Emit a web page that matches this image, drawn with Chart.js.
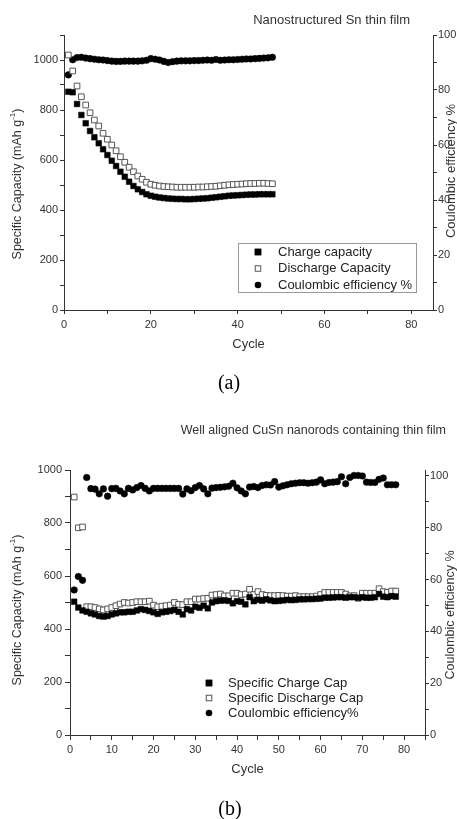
<!DOCTYPE html>
<html>
<head>
<meta charset="utf-8">
<script src="https://cdn.jsdelivr.net/npm/chart.js@4.4.1/dist/chart.umd.min.js"></script>
<style>
html,body{margin:0;padding:0;background:#fff;width:457px;height:819px;overflow:hidden;}
canvas{position:absolute;left:0;display:block;}
#ca{top:0;}
#cb{top:400px;}
</style>
</head>
<body>
<canvas id="ca" width="457" height="400" style="width:457px;height:400px"></canvas>
<canvas id="cb" width="457" height="419" style="width:457px;height:419px"></canvas>
<script>
// ---------- DATA: chart (a) ----------
const cyclesA = [1,2,3,4,5,6,7,8,9,10,11,12,13,14,15,16,17,18,19,20,21,22,23,24,25,26,27,28,29,30,31,32,33,34,35,36,37,38,39,40,41,42,43,44,45,46,47,48];
const chargeA = [873,871,824,780,747,716,691,667,643,620,597,576,553,533,513,496,483,472,463,457,453,450,448,446,445,444,444,443,443,444,445,446,447,449,451,453,455,457,458,459,460,461,462,462,463,463,463,463];
const dischargeA = [1020,956,896,853,820,789,760,736,707,683,660,637,613,591,571,553,536,523,511,503,499,496,494,493,492,491,491,491,491,491,492,492,493,494,495,497,499,501,502,503,504,505,506,506,507,507,506,505];
const ceA = [85.5,91.0,91.8,91.9,91.6,91.4,91.2,91.0,90.9,90.7,90.5,90.4,90.4,90.5,90.5,90.5,90.5,90.6,90.8,91.4,91.2,90.9,90.4,90.0,90.3,90.5,90.6,90.6,90.6,90.7,90.7,90.8,90.9,90.8,91.1,90.8,90.9,91.0,91.0,91.1,91.2,91.3,91.3,91.4,91.5,91.6,91.7,91.9];
const legendA = ['Charge capacity','Discharge Capacity','Coulombic efficiency %'];
const titleA = 'Nanostructured Sn thin film';
const xLabelsA = [0,20,40,60,80];
const yLabelsA = [0,200,400,600,800,1000];
const y2LabelsA = [0,20,40,60,80,100];

// ---------- DATA: chart (b) ----------
const cyclesB = [1,2,3,4,5,6,7,8,9,10,11,12,13,14,15,16,17,18,19,20,21,22,23,24,25,26,27,28,29,30,31,32,33,34,35,36,37,38,39,40,41,42,43,44,45,46,47,48,49,50,51,52,53,54,55,56,57,58,59,60,61,62,63,64,65,66,67,68,69,70,71,72,73,74,75,76,77,78];
const chargeB = [503,481,470,465,459,455,449,447,449,455,
                 459,463,463,465,465,470,475,472,468,463,
                 457,463,465,468,472,465,455,475,470,484,
                 480,488,478,500,505,507,508,506,497,505,
                 503,493,520,505,510,507,512,508,505,506,
                 508,510,509,510,512,512,513,513,514,515,
                 518,518,519,520,520,518,520,520,518,520,
                 518,518,520,532,522,520,524,522];
const dischargeB = [898,782,785,484,484,481,476,472,476,481,
                    488,494,500,498,500,503,503,503,505,490,
                    484,486,488,490,500,493,492,503,503,513,
                    513,515,516,528,530,532,525,525,535,535,
                    530,532,550,530,541,530,527,526,526,527,
                    526,524,524,526,522,522,522,522,524,530,
                    538,538,538,538,538,532,525,526,516,535,
                    535,535,535,552,541,538,543,543];
const ceB = [56.0,61.2,59.7,99.4,95.1,94.9,93.1,95.0,92.2,95.1,
             95.2,94.2,93.1,95.2,94.6,95.5,96.3,95.2,94.2,95.2,
             95.2,95.2,95.2,95.2,95.2,95.2,93.0,95.0,94.3,95.5,
             96.3,95.0,93.1,95.3,95.5,95.6,95.8,96.0,97.2,95.4,
             94.2,93.1,95.7,95.9,95.5,96.3,96.6,96.5,97.8,95.7,
             96.2,96.6,97.0,97.2,97.4,97.4,97.2,97.4,97.6,98.5,
             97.0,97.5,97.6,97.8,99.7,97.0,99.4,100.2,100.2,100.0,
             97.6,97.5,97.5,98.7,99.2,96.6,96.6,96.6];
const legendB = ['Specific Charge Cap','Specific Discharge Cap','Coulombic efficiency%'];
const titleB = 'Well aligned CuSn nanorods containing thin film';
const xLabelsB = [0,10,20,30,40,50,60,70,80];
const yLabelsB = [0,200,400,600,800,1000];
const y2LabelsB = [0,20,40,60,80,100];

// ---------- shared text ----------
const xTitle = 'Cycle';
const yTitleParts = ['Specific Capacity (mAh g', '-1', ')'];
const y2Title = 'Coulombic efficiency %';

const FONT = '"Liberation Sans", Arial, Helvetica, sans-serif';
const SERIF = '"Liberation Serif", "Times New Roman", serif';

function pts(xs, ys){ return xs.map((x,i)=>({x:x, y:ys[i]})); }

// text plugin: titles, axis titles, captions
const textPlugin = {
  id: 'texts',
  afterDraw(chart, args, opts){
    const ctx = chart.ctx;
    (opts.items || []).forEach(it => {
      ctx.save();
      ctx.translate(it.x, it.y);
      if (it.rot) ctx.rotate(it.rot);
      ctx.fillStyle = it.color || '#333';
      ctx.textBaseline = 'middle';
      if (it.parts) {
        const f = it.size + 'px ' + FONT, fs = Math.round(it.size*0.62) + 'px ' + FONT;
        ctx.font = f; const w0 = ctx.measureText(it.parts[0]).width;
        const w2 = ctx.measureText(it.parts[2]).width;
        ctx.font = fs; const w1 = ctx.measureText(it.parts[1]).width;
        let x = -(w0+w1+w2)/2;
        ctx.textAlign = 'left';
        ctx.font = f; ctx.fillText(it.parts[0], x, 0); x += w0;
        ctx.font = fs; ctx.fillText(it.parts[1], x, -it.size*0.38); x += w1;
        ctx.font = f; ctx.fillText(it.parts[2], x, 0);
      } else {
        ctx.font = it.font;
        ctx.textAlign = it.align || 'center';
        ctx.fillText(it.text, 0, 0);
      }
      ctx.restore();
    });
  }
};

// legend plugin using dataset styles
const legendPlugin = {
  id: 'ptLegend',
  afterDraw(chart, args, o){
    if (!o || o.mx === undefined) return;
    const ctx = chart.ctx;
    ctx.save();
    if (o.box) {
      ctx.strokeStyle = '#9a9a9a'; ctx.lineWidth = 1;
      ctx.strokeRect(o.box[0]+0.5, o.box[1]+0.5, o.box[2], o.box[3]);
    }
    ctx.font = o.size + 'px ' + FONT;
    ctx.textBaseline = 'middle'; ctx.textAlign = 'left';
    chart.data.datasets.forEach((ds, i) => {
      const y = o.y0 + i*o.dy;
      ctx.fillStyle = ds.pointBackgroundColor;
      ctx.strokeStyle = ds.pointBorderColor;
      ctx.lineWidth = 1;
      if (ds.pointStyle === 'rect') {
        const s = o.sq;
        ctx.fillRect(o.mx - s/2, y - s/2, s, s);
        ctx.strokeRect(o.mx - s/2 + 0.5, y - s/2 + 0.5, s - 1, s - 1);
      } else {
        ctx.beginPath(); ctx.arc(o.mx, y, o.cr, 0, Math.PI*2); ctx.fill();
      }
      ctx.fillStyle = '#222';
      ctx.fillText(ds.label, o.tx, y);
    });
    ctx.restore();
  }
};

function axis(pos, min, max, step, labels, size, tick, pad){
  return {
    type: 'linear', position: pos, min: min, max: max,
    ticks: {
      stepSize: step, includeBounds: false, autoSkip: false, maxRotation: 0, minRotation: 0,
      padding: pad, color: '#333', font: {family: FONT, size: 11},
      callback: v => labels.includes(v) ? String(v) : ''
    },
    grid: {drawOnChartArea: false, drawTicks: true, tickLength: tick, tickColor: '#333', tickWidth: 1, color: '#333'},
    border: {display: true, color: '#333', width: 1},
    title: {display: false},
    afterFit: s => { if (pos === 'bottom') s.height = size; else s.width = size; }
  };
}

function datasets(cyc, ch, dis, ce, labels){
  return [
    {label: labels[0], data: pts(cyc, ch), yAxisID: 'y', pointStyle: 'rect', pointRadius: 4.0,
     pointBackgroundColor: '#000', pointBorderColor: '#000', pointBorderWidth: 0.5,
     backgroundColor: '#000', borderColor: '#000', showLine: false},
    {label: labels[1], data: pts(cyc, dis), yAxisID: 'y', pointStyle: 'rect', pointRadius: 4.0,
     pointBackgroundColor: '#fff', pointBorderColor: '#555', pointBorderWidth: 1,
     backgroundColor: '#fff', borderColor: '#555', showLine: false},
    {label: labels[2], data: pts(cyc, ce), yAxisID: 'y2', pointStyle: 'circle', pointRadius: 3.3,
     pointBackgroundColor: '#000', pointBorderColor: '#000', pointBorderWidth: 0.5,
     backgroundColor: '#000', borderColor: '#000', showLine: false}
  ];
}

Chart.register(textPlugin, legendPlugin);

// ---------- chart (a) ----------
new Chart(document.getElementById('ca'), {
  type: 'scatter',
  data: {datasets: datasets(cyclesA, chargeA, dischargeA, ceA, legendA)},
  options: {
    responsive: false, animation: false, events: [],
    layout: {padding: {left: 0, right: 0, top: 35, bottom: 0}},
    scales: {
      x: axis('bottom', 0, 85, 10, xLabelsA, 90, 4, 4),
      y: axis('left', 0, 1100, 100, yLabelsA, 64, 4, 2),
      y2: axis('right', 0, 100, 10, y2LabelsA, 24, 4, 1)
    },
    plugins: {
      legend: {display: false}, tooltip: {enabled: false},
      ptLegend: {box: [238, 243, 178, 49], mx: 258, tx: 278, y0: 252, dy: 16.5, size: 13, sq: 6.5, cr: 3.3},
      texts: {items: [
        {text: titleA, x: 410, y: 20, align: 'right', font: '13px ' + FONT, color: '#333'},
        {text: xTitle, x: 248.5, y: 344, font: '13px ' + FONT, color: '#333'},
        {parts: yTitleParts, x: 18, y: 184, rot: -Math.PI/2, size: 12.5, color: '#333'},
        {text: y2Title, x: 451, y: 171, rot: -Math.PI/2, font: '13px ' + FONT, color: '#333'},
        {text: '(a)', x: 229, y: 384, font: '20px ' + SERIF, color: '#000'}
      ]}
    }
  }
});

// ---------- chart (b) ----------
new Chart(document.getElementById('cb'), {
  type: 'scatter',
  data: {datasets: datasets(cyclesB, chargeB, dischargeB, ceB, legendB)},
  options: {
    responsive: false, animation: false, events: [],
    layout: {padding: {left: 0, right: 0, top: 70, bottom: 0}},
    scales: {
      x: axis('bottom', 0, 85, 5, xLabelsB, 84, 5, 3),
      y: axis('left', 0, 1000, 100, yLabelsB, 70, 5, 3),
      y2: axis('right', 0, 102.3, 10, y2LabelsB, 32, 4, 1)
    },
    plugins: {
      legend: {display: false}, tooltip: {enabled: false},
      ptLegend: {mx: 209, tx: 228, y0: 283, dy: 15, size: 13, sq: 6.5, cr: 3.3},
      texts: {items: [
        {text: titleB, x: 446, y: 31, align: 'right', font: '12.5px ' + FONT, color: '#333'},
        {text: xTitle, x: 247.5, y: 369, font: '13px ' + FONT, color: '#333'},
        {parts: yTitleParts, x: 18, y: 210, rot: -Math.PI/2, size: 12.5, color: '#333'},
        {text: y2Title, x: 451, y: 215, rot: -Math.PI/2, font: '12.5px ' + FONT, color: '#333'},
        {text: '(b)', x: 230, y: 410, font: '20px ' + SERIF, color: '#000'}
      ]}
    }
  }
});
</script>
</body>
</html>
